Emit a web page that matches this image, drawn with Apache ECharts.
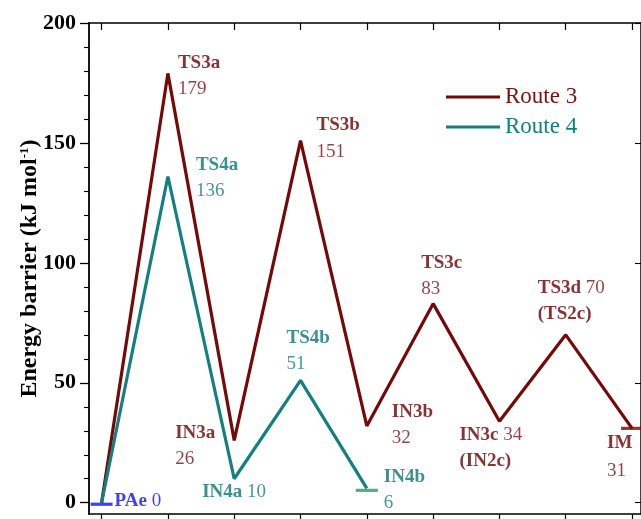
<!DOCTYPE html>
<html>
<head>
<meta charset="utf-8">
<script src="https://cdn.jsdelivr.net/npm/echarts@6/dist/echarts.min.js"></script>
<style>html,body{margin:0;padding:0;background:#fff;}#c{width:641px;height:519px;}</style>
</head>
<body>
<div id="c"></div>
<script>
// ---- data ----
const route3Names = ['PAe', 'TS3a', 'IN3a', 'TS3b', 'IN3b', 'TS3c', 'IN3c', 'TS3d', 'IM'];
const route3Alias = ['', '', '', '', '', '', '(IN2c)', '(TS2c)', ''];
const route3Values = [0, 179, 26, 151, 32, 83, 34, 70, 31];
const route4Names = ['PAe', 'TS4a', 'IN4a', 'TS4b', 'IN4b'];
const route4Values = [0, 136, 10, 51, 6];
const startName = 'PAe';
const startValue = 0;
const yMajorTicks = [0, 50, 100, 150, 200];
const yMinorTicks = [10, 20, 30, 40, 60, 70, 80, 90, 110, 120, 130, 140, 160, 170, 180, 190];
const xTicks = [0, 1, 2, 3, 4, 5, 6, 7, 8];
const seriesNames = ['Route 3', 'Route 4'];

// ---- styling ----
const C3 = '#760808', C3n = '#6a0000', C3v = '#7a1010';
const C4 = '#128080', C4n = '#087575', C4v = '#108080';
const CB = '#1010f0';
const FONT = 'Liberation Serif';
const FS = 19;

// label layout per point: dx, dy from point to text block top-left; kind of text
const r3Layout = [
  null,
  {dx: 10, dy: -23, kind: 'stack'},
  {dx: -59, dy: -20, kind: 'stack'},
  {dx: 16, dy: -28, kind: 'stack'},
  {dx: 25, dy: -27, kind: 'stack'},
  {dx: -12, dy: -54, kind: 'stack'},
  {dx: -40, dy: 1, kind: 'alias'},
  {dx: -28, dy: -60, kind: 'alias'},
  {dx: -25, dy: 1, kind: 'stack', lh: 28}
];
const r4Layout = [
  null,
  {dx: 28, dy: -24, kind: 'stack'},
  {dx: -32, dy: 0, kind: 'inline'},
  {dx: -14, dy: -55, kind: 'stack'},
  {dx: 17, dy: -24, kind: 'stack'}
];

function richFor(nc, vc, lh) {
  return {
    n: {fontFamily: FONT, fontSize: FS, fontWeight: 'bold', color: nc, lineHeight: lh},
    v: {fontFamily: FONT, fontSize: FS, fontWeight: 'normal', color: vc, lineHeight: lh}
  };
}
function textFor(kind, name, val, alias) {
  if (kind === 'stack') return '{n|' + name + '}\n{v|' + val + '}';
  if (kind === 'inline') return '{n|' + name + '}{v| ' + val + '}';
  return '{n|' + name + '}{v| ' + val + '}\n{n|' + alias + '}';
}
function labelPoints(names, values, layout, nc, vc, alias) {
  const out = [];
  values.forEach((v, i) => {
    const L = layout[i];
    if (!L) return;
    const lh = L.lh || 26;
    out.push({
      value: [i, v],
      label: {
        show: true,
        position: [1, 1],
        offset: [L.dx, L.dy],
        align: 'left',
        verticalAlign: 'top',
        fontFamily: FONT, fontSize: FS, lineHeight: lh,
        formatter: textFor(L.kind, names[i], v, alias ? alias[i] : ''),
        rich: richFor(nc, vc, lh)
      }
    });
  });
  return out;
}

const chart = echarts.init(document.getElementById('c'), null, {renderer: 'canvas'});
const xMin = -0.19, xMax = 8.135;
const yMin = -4.7, yMax = 200;

const option = {
  animation: false,
  backgroundColor: '#fff',
  grid: {left: 89, top: 23, width: 555, height: 491, containLabel: false},
  legend: {
    orient: 'vertical', left: 446, top: 84, padding: 0,
    icon: 'rect', itemWidth: 54, itemHeight: 3, itemGap: 4,
    textStyle: {fontFamily: FONT, fontSize: 23, lineHeight: 26},
    data: [
      {name: seriesNames[0], textStyle: {color: C3v}},
      {name: seriesNames[1], textStyle: {color: C4v}}
    ]
  },
  xAxis: [
    {
      type: 'value', min: xMin, max: xMax, position: 'bottom',
      axisLine: {show: true, onZero: false, lineStyle: {color: '#000', width: 1.5}},
      axisTick: {show: true, inside: false, length: 6, customValues: xTicks, lineStyle: {color: '#000', width: 1.2}},
      axisLabel: {show: false},
      splitLine: {show: false}
    },
    {
      type: 'value', min: xMin, max: xMax, position: 'top',
      axisLine: {show: true, onZero: false, lineStyle: {color: '#000', width: 1.5}},
      axisTick: {show: true, inside: true, length: 7, customValues: xTicks, lineStyle: {color: '#000', width: 1.2}},
      axisLabel: {show: false},
      splitLine: {show: false}
    }
  ],
  yAxis: [
    {
      type: 'value', min: yMin, max: yMax, position: 'left',
      name: 'Energy barrier (kJ mol{sup|-1})',
      nameLocation: 'middle', nameGap: 47, nameRotate: 90, nameMoveOverlap: false,
      nameTextStyle: {
        fontFamily: FONT, fontSize: 24, color: '#000', fontWeight: 'bold',
        rich: {sup: {fontFamily: FONT, fontSize: 13, fontWeight: 'bold', verticalAlign: 'top', lineHeight: 12, padding: [0, 0, 6, 0]}}
      },
      axisLine: {show: true, onZero: false, lineStyle: {color: '#000', width: 1.8}},
      axisTick: {show: true, inside: false, length: 9, customValues: yMajorTicks, lineStyle: {color: '#000', width: 1.3}},
      axisLabel: {show: true, customValues: yMajorTicks, margin: 13, fontFamily: FONT, fontSize: 22, fontWeight: 'bold', color: '#000'},
      splitLine: {show: false}
    },
    {
      type: 'value', min: yMin, max: yMax, position: 'left', offset: 0,
      axisLine: {show: false, onZero: false},
      axisTick: {show: true, inside: false, length: 5, customValues: yMinorTicks, lineStyle: {color: '#000', width: 1.1}},
      axisLabel: {show: false},
      splitLine: {show: false}
    },
    {
      type: 'value', min: yMin, max: yMax, position: 'right', offset: 0,
      axisLine: {show: true, onZero: false, lineStyle: {color: '#000', width: 1.5}},
      axisTick: {show: true, inside: true, length: 6, customValues: yMajorTicks, lineStyle: {color: '#000', width: 1.1}},
      axisLabel: {show: false},
      splitLine: {show: false}
    }
  ],
  series: [
    {
      name: seriesNames[0], type: 'line', color: C3,
      symbol: 'none', lineStyle: {color: C3, width: 3.2}, z: 3,
      data: route3Values.map((v, i) => [i, v])
    },
    {
      name: seriesNames[1], type: 'line', color: C4,
      symbol: 'none', lineStyle: {color: C4, width: 3.2}, z: 4,
      data: route4Values.map((v, i) => [i, v])
    },
    // end / start bars
    {
      type: 'scatter', symbol: 'rect', symbolSize: [22, 3.2], z: 5,
      itemStyle: {color: CB},
      symbolOffset: [0, 1.5],
      data: [{
        value: [0, startValue],
        label: {
          show: true, position: [11, 1.6], offset: [13, -16], align: 'left', verticalAlign: 'top',
          fontFamily: FONT, fontSize: FS, lineHeight: 26,
          formatter: '{n|' + startName + '}{v| ' + startValue + '}',
          rich: richFor(CB, CB, 26)
        }
      }]
    },
    {
      type: 'scatter', symbol: 'rect', symbolSize: [22, 3.2], z: 5,
      itemStyle: {color: '#2a9862'}, symbolOffset: [0, 2],
      data: [[route4Values.length - 1, route4Values[route4Values.length - 1]]]
    },
    {
      type: 'scatter', symbol: 'rect', symbolSize: [22, 3.2], z: 5,
      itemStyle: {color: C3},
      data: [[route3Values.length - 1, route3Values[route3Values.length - 1]]]
    },
    // labels
    {
      type: 'scatter', symbolSize: 2, itemStyle: {color: 'rgba(0,0,0,0)'}, z: 6,
      data: labelPoints(route3Names, route3Values, r3Layout, C3n, C3v, route3Alias)
    },
    {
      type: 'scatter', symbolSize: 2, itemStyle: {color: 'rgba(0,0,0,0)'}, z: 6,
      data: labelPoints(route4Names, route4Values, r4Layout, C4n, C4v, null)
    }
  ]
};
chart.setOption(option);
</script>
</body>
</html>
